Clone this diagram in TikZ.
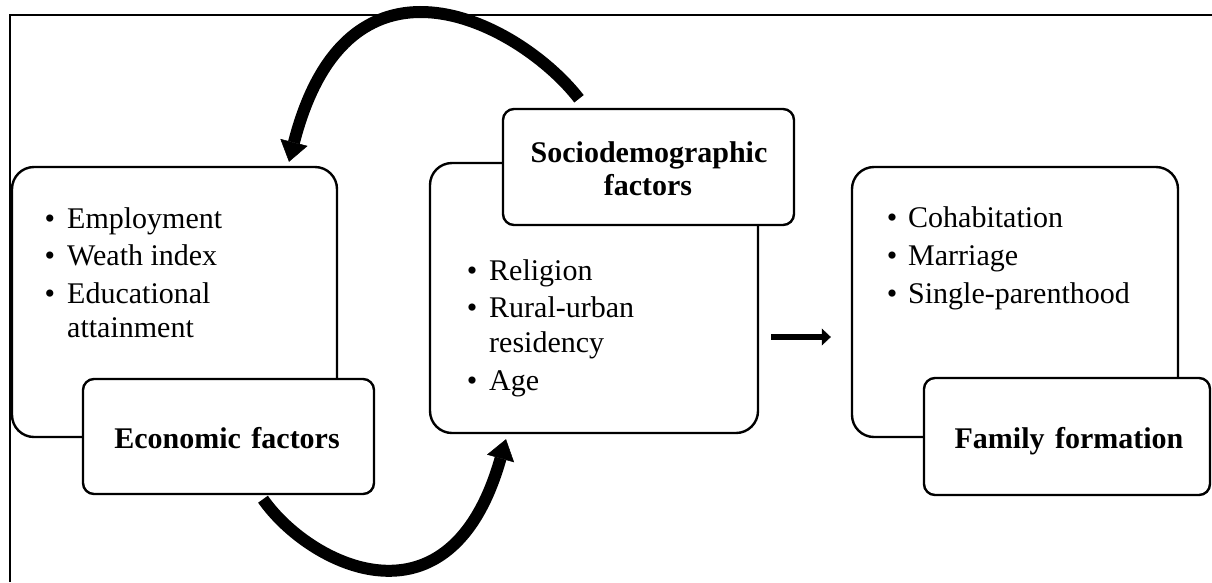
\documentclass[tikz,border=0pt]{standalone}
\usepackage{fontspec}
\setmainfont{Liberation Serif}
\usetikzlibrary{arrows.meta}
\begin{document}
\begin{tikzpicture}[x=1pt,y=-1pt,
  bigbox/.style={draw, line width=2.4pt, rounded corners=22pt, inner sep=0pt, minimum height=270pt},
  lblbox/.style={draw, fill=white, line width=2.4pt, rounded corners=11pt, inner sep=0pt},
  txt/.style={font=\fontsize{30}{36}\selectfont, inner sep=0pt},
  bul/.style={txt, anchor=base},
  itm/.style={txt, anchor=base west},
  lbl/.style={inner sep=0pt, font=\fontsize{30}{36}\selectfont\bfseries, anchor=base},
  bigarrow/.style={line width=12pt, -{Triangle[length=20pt,width=28pt,line width=0.5pt]}},
  smallarrow/.style={line width=6.5pt, -{Triangle[length=9pt,width=17pt,line width=0.5pt]}},
  frameline/.style={line width=2pt}]
\useasboundingbox (0,0) rectangle (1212,582);
\fill[white] (0,0) rectangle (1212,582);
% outer frame
\draw[frameline] (10,582) -- (10,14.5) -- (1212,14.5);
% big boxes
\node[bigbox, minimum width=325pt] (ecobig) at (174.5,302) {};
\node[bigbox, minimum width=328pt] (sociobig) at (594,298) {};
\node[bigbox, minimum width=326pt] (fambig) at (1015,302) {};
% label boxes
\node[lblbox, minimum width=291pt, minimum height=115pt] (ecolbl) at (228.5,436.5) {};
\node[lblbox, minimum width=291pt, minimum height=116pt] (sociolbl) at (648.5,167) {};
\node[lblbox, minimum width=286pt, minimum height=117pt] (famlbl) at (1067,436.5) {};
% label texts
\node[lbl] (ecotxt) at (227,448) {Economic\hspace{0.35em}factors};
\node[lbl] (sociotxt1) at (649,162) {Sociodemographic};
\node[lbl] (sociotxt2) at (648,195) {factors};
\node[lbl] (famtxt) at (1069,448) {Family\hspace{0.35em}formation};
% economic items
\node[bul] (eb1) at (50,228) {•};
\node[itm] (ei1) at (67,228) {Employment};
\node[bul] (eb2) at (50,265) {•};
\node[itm] (ei2) at (67,265) {Weath index};
\node[bul] (eb3) at (50,303) {•};
\node[itm] (ei3) at (67,303) {Educational};
\node[itm] (ei3b) at (67,337) {attainment};
% sociodemographic items
\node[bul] (sb1) at (472,280) {•};
\node[itm] (si1) at (489,280) {Religion};
\node[bul] (sb2) at (472,317) {•};
\node[itm] (si2) at (489,317) {Rural-urban};
\node[itm] (si2b) at (489,352) {residency};
\node[bul] (sb3) at (472,390) {•};
\node[itm] (si3) at (489,390) {Age};
% family items
\node[bul] (fb1) at (892,227) {•};
\node[itm] (fi1) at (908,227) {Cohabitation};
\node[bul] (fb2) at (892,265) {•};
\node[itm] (fi2) at (908,265) {Marriage};
\node[bul] (fb3) at (892,303) {•};
\node[itm] (fi3) at (908,303) {Single-parenthood};
% arrows
\draw[bigarrow] ([xshift=-69.5pt,yshift=9pt]sociolbl.north) .. controls (523,26) and (349,-72) .. ([xshift=114.5pt,yshift=4pt]ecobig.north);
\draw[bigarrow] ([xshift=34.5pt,yshift=-4pt]ecolbl.south) .. controls (309,565) and (450,637) .. ([xshift=-88pt,yshift=-5pt]sociobig.south);
\draw[smallarrow] ([xshift=12pt,yshift=-39pt]sociobig.east) -- ([xshift=-20pt,yshift=-35pt]fambig.west);
\end{tikzpicture}
\end{document}
